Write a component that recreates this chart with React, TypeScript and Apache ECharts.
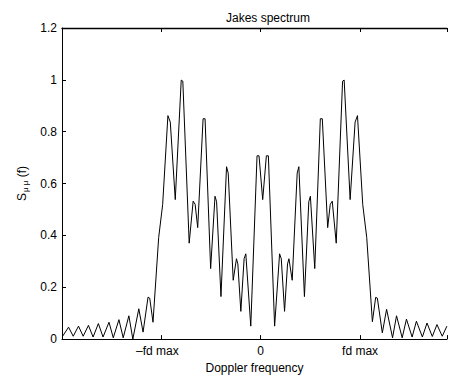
import React, { useEffect, useRef } from "react";
import * as echarts from "echarts";

// Doppler frequency in units of fd max
const freq = [
  -1.994, -1.934, -1.887, -1.834, -1.787, -1.734, -1.687, -1.634, -1.587, -1.527,
  -1.484, -1.427, -1.384, -1.327, -1.287, -1.227, -1.184, -1.134, -1.117, -1.084,
  -1.027, -0.987, -0.934, -0.91, -0.86, -0.8, -0.784, -0.72, -0.68, -0.66,
  -0.634, -0.58, -0.56, -0.504, -0.46, -0.444, -0.4, -0.344, -0.327, -0.277,
  -0.244, -0.23, -0.2, -0.167, -0.15, -0.1, -0.037, -0.017, 0.02,
  0.057, 0.077, 0.14, 0.19, 0.207, 0.24, 0.27, 0.284, 0.317, 0.367,
  0.384, 0.44, 0.484, 0.5, 0.544, 0.6, 0.62, 0.674, 0.7, 0.72,
  0.76, 0.824, 0.84, 0.9, 0.95, 0.974, 1.027, 1.067, 1.124, 1.157,
  1.174, 1.224, 1.267, 1.327, 1.367, 1.424, 1.467, 1.524, 1.567, 1.627,
  1.674, 1.727, 1.774, 1.827, 1.874,
];

// Spectrum value S_mumu(f)
const spectrum = [
  0.011, 0.046, 0.011, 0.05, 0.011, 0.053, 0.008, 0.06, 0.008, 0.065,
  0.005, 0.075, 0.005, 0.09, 0.0, 0.117, 0.027, 0.162, 0.158, 0.065,
  0.392, 0.519, 0.862, 0.837, 0.538, 0.999, 0.995, 0.37, 0.532, 0.52,
  0.43, 0.85, 0.85, 0.272, 0.551, 0.53, 0.164, 0.665, 0.64, 0.227,
  0.31, 0.29, 0.107, 0.31, 0.329, 0.05, 0.707, 0.707, 0.538,
  0.707, 0.707, 0.05, 0.329, 0.31, 0.107, 0.29, 0.31, 0.227, 0.64,
  0.665, 0.164, 0.53, 0.551, 0.272, 0.85, 0.85, 0.43, 0.52, 0.532,
  0.37, 0.995, 0.999, 0.538, 0.837, 0.862, 0.519, 0.392, 0.067, 0.161,
  0.158, 0.024, 0.115, 0.005, 0.09, 0.005, 0.077, 0.008, 0.069, 0.008,
  0.062, 0.01, 0.056, 0.011, 0.05,
];

const xTickLabels: Record<string, string> = { "-1": "{neg|\u2013fd max}", "0": "0", "1": "fd max" };
const yTicks = [0, 0.2, 0.4, 0.6, 0.8, 1, 1.2];

export default function App() {
  const ref = useRef<HTMLDivElement>(null);
  useEffect(() => {
    if (!ref.current) return;
    const chart = echarts.init(ref.current, undefined, { renderer: "svg" });
    const font = "Liberation Sans, Arial, Helvetica, sans-serif";
    const axisColor = "#000";
    const labelSize = 12;
    chart.setOption({
      animation: false,
      backgroundColor: "#fff",
      textStyle: { fontFamily: font, color: "#000" },
      title: {
        text: "Jakes spectrum",
        left: 263,
        top: 7,
        textAlign: "center",
        textStyle: { fontSize: 12, fontWeight: "normal", color: "#000", fontFamily: font },
      },
      grid: { left: 62, right: 0, top: 28, bottom: 36 },
      xAxis: [
        {
          type: "value",
          min: -2,
          max: 1.875,
          interval: 1,
          splitLine: { show: false },
          axisLine: { onZero: false, lineStyle: { color: axisColor, width: 1 } },
          axisTick: { inside: true, length: 4, lineStyle: { color: axisColor } },
          axisLabel: {
            margin: 6,
            fontSize: labelSize,
            color: "#000",
            fontFamily: font,
            formatter: (v: number) => xTickLabels[String(v)] ?? "",
            rich: {
              neg: { fontSize: labelSize, color: "#000", fontFamily: font, padding: [0, 8, 0, 0] },
            },
          },
          name: "Doppler frequency",
          nameLocation: "middle",
          nameGap: 20,
          nameTextStyle: { fontSize: labelSize, color: "#000", fontFamily: font },
        },
        {
          type: "value",
          position: "top",
          min: -2,
          max: 1.875,
          interval: 1,
          splitLine: { show: false },
          axisLine: { onZero: false, lineStyle: { color: axisColor, width: 1.3 } },
          axisTick: { inside: true, length: 4, lineStyle: { color: axisColor } },
          axisLabel: { show: false },
        },
      ],
      yAxis: {
        type: "value",
        min: 0,
        max: 1.2,
        interval: 0.2,
        splitLine: { show: false },
        axisLine: { show: true, onZero: false, lineStyle: { color: axisColor, width: 1 } },
        axisTick: { show: true, inside: true, length: 4, lineStyle: { color: axisColor } },
        axisLabel: {
          margin: 5,
          fontSize: labelSize,
          color: "#000",
          fontFamily: font,
          formatter: (v: number) => {
            const t = yTicks.find((k) => Math.abs(k - v) < 1e-6);
            return t === undefined ? "" : String(t);
          },
        },
        name: "{s|S}{sub|\u03bc \u03bc}{s| (f)}",
        nameLocation: "middle",
        nameGap: 31,
        nameRotate: 90,
        nameTextStyle: {
          color: "#000",
          fontFamily: font,
          rich: {
            s: { fontSize: 12, color: "#000", fontFamily: font },
            sub: { fontSize: 8, color: "#000", fontFamily: font, padding: [7, 0, 0, 1] },
          },
        },
      },
      series: [
        {
          type: "line",
          xAxisIndex: 0,
          data: freq.map((f, i) => [f, spectrum[i]]),
          showSymbol: false,
          symbol: "none",
          lineStyle: { color: "#000", width: 1 },
          clip: true,
        },
      ],
    });
    return () => chart.dispose();
  }, []);
  return (
    <div
      ref={ref}
      style={{ position: "fixed", left: 0, top: 0, width: 450, height: 379, background: "#fff" }}
    />
  );
}
